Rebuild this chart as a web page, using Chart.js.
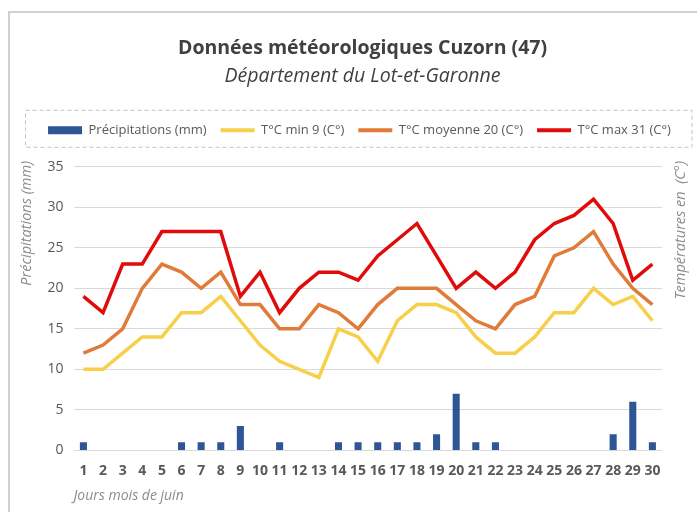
<!DOCTYPE html>
<html>
<head>
<meta charset="utf-8">
<script src="https://cdn.jsdelivr.net/npm/chart.js@4/dist/chart.umd.min.js"></script>
<style>
	body { margin: 0; background: #fff; }
	#wrap { position: relative; width: 697px; height: 512px; }
	#frame { position: absolute; left: 8px; top: 11px; width: 700px; height: 510px; border: 2px solid #d0d0d0; pointer-events: none; }
</style>
</head>
<body>
<div id="wrap">
	<canvas id="meteo-chart"></canvas>
	<div id="frame"></div>
</div>
<script>
// data
let days = [];
for (let i = 1; i <= 30; i++) days.push(String(i));

let precipitations = [1, 0, 0, 0, 0, 1, 1, 1, 3, 0, 1, 0, 0, 1, 1, 1, 1, 1, 2, 7, 1, 1, 0, 0, 0, 0, 0, 2, 6, 1];
let tempMin = [10, 10, 12, 14, 14, 17, 17, 19, 16, 13, 11, 10, 9, 15, 14, 11, 16, 18, 18, 17, 14, 12, 12, 14, 17, 17, 20, 18, 19, 16];
let tempMoyenne = [12, 13, 15, 20, 23, 22, 20, 22, 18, 18, 15, 15, 18, 17, 15, 18, 20, 20, 20, 18, 16, 15, 18, 19, 24, 25, 27, 23, 20, 18];
let tempMax = [19, 17, 23, 23, 27, 27, 27, 27, 19, 22, 17, 20, 22, 22, 21, 24, 26, 28, 24, 20, 22, 20, 22, 26, 28, 29, 31, 28, 21, 23];

let seriesLabels = ["Précipitations (mm)", "T°C min 9 (C°)", "T°C moyenne 20 (C°)", "T°C max 31 (C°)"];
let seriesColors = ["#2f5597", "#f7d04b", "#e07b39", "#e00b0b"];

let fontFamily = "'Open Sans', sans-serif";
let textGrey = "#595959";
let titleGrey = "#8c8c8c";
let leftTitle = "Précipitations (mm)";
let rightTitle = "Températures en  (C°)";
let legendExtra = 20;

// extra space under the legend
const legendMargin = {
	id: "legendMargin",
	beforeInit(chart) {
		const fit = chart.legend.fit;
		chart.legend.fit = function () {
			fit.bind(chart.legend)();
			this.height += legendExtra;
		};
	},
	// title, subtitle and legend sit a bit right of the canvas centre
	afterLayout(chart) {
		chart.boxes.forEach(function (b) {
			if (b.options && typeof b.options.text === "string") {
				b.left += 20;
			}
		});
		chart.legend.left += 7;
		chart.legend.right += 7;
	},
};

// axis titles read bottom to top, top end a little above the plot
function drawAxisTitle(ctx, text, x, y) {
	ctx.save();
	ctx.translate(x, y);
	ctx.rotate(-Math.PI / 2);
	ctx.font = "italic 14.5px " + fontFamily;
	ctx.fillStyle = titleGrey;
	ctx.textAlign = "right";
	ctx.textBaseline = "middle";
	ctx.fillText(text, 0, 0);
	ctx.restore();
}

// dashed box round the legend + axis titles
const legendFrame = {
	id: "legendFrame",
	afterDraw(chart) {
		const lg = chart.legend;
		const ctx = chart.ctx;
		ctx.save();
		ctx.setLineDash([4, 3]);
		ctx.strokeStyle = "#c4c4c4";
		ctx.lineWidth = 1;
		ctx.strokeRect(lg.left + 4.5, lg.top + 0.5, lg.width - 10.5, lg.height - legendExtra);
		ctx.restore();

		drawAxisTitle(ctx, leftTitle, chart.scales.y.left + 13, chart.chartArea.top - 6);
		drawAxisTitle(ctx, rightTitle, chart.scales.y2.right - 10.4, chart.chartArea.top - 6);
	},
};

function lineDataset(label, values, color) {
	return {
		type: "line",
		label: label,
		data: values,
		borderColor: color,
		backgroundColor: color,
		borderWidth: 3.5,
		pointRadius: 0,
		tension: 0,
		yAxisID: "y",
	};
}

const data = {
	labels: days,
	datasets: [
		{
			type: "bar",
			label: seriesLabels[0],
			data: precipitations,
			backgroundColor: seriesColors[0],
			barPercentage: 0.36,
			categoryPercentage: 1,
			yAxisID: "y",
		},
		lineDataset(seriesLabels[1], tempMin, seriesColors[1]),
		lineDataset(seriesLabels[2], tempMoyenne, seriesColors[2]),
		lineDataset(seriesLabels[3], tempMax, seriesColors[3]),
	],
};

const chartConfig = {
	data: data,
	options: {
		responsive: true,
		maintainAspectRatio: false,
		animation: false,
		layout: { padding: { top: 31, left: 14, right: 6, bottom: 4 } },
		plugins: {
			title: {
				display: true,
				text: "Données météorologiques Cuzorn (47)",
				color: "#404040",
				font: { family: fontFamily, size: 19.5, weight: "bold" },
				padding: { top: 6, bottom: 4 },
			},
			subtitle: {
				display: true,
				text: "Département du Lot-et-Garonne",
				color: "#404040",
				font: { family: fontFamily, size: 19.5, style: "italic" },
				padding: { top: 0, bottom: 22 },
			},
			legend: {
				position: "top",
				labels: {
					color: textGrey,
					font: { family: fontFamily, size: 13 },
					usePointStyle: true,
					pointStyleWidth: 34,
					boxHeight: 8,
					padding: 14,
					generateLabels(chart) {
						return chart.data.datasets.map(function (ds, i) {
							let isBar = ds.type === "bar";
							return {
								text: ds.label,
								fillStyle: ds.backgroundColor,
								strokeStyle: ds.borderColor || ds.backgroundColor,
								lineWidth: isBar ? 0 : 4,
								pointStyle: isBar ? "rect" : "line",
								fontColor: textGrey,
								hidden: false,
								datasetIndex: i,
							};
						});
					},
				},
			},
			tooltip: { enabled: false },
		},
		scales: {
			x: {
				grid: { display: false },
				border: { display: false },
				ticks: { color: textGrey, font: { family: fontFamily, size: 14, weight: "bold" }, maxRotation: 0, autoSkip: false, padding: 4 },
				title: {
					display: true,
					text: "Jours mois de juin",
					align: "start",
					color: titleGrey,
					font: { family: fontFamily, size: 14, style: "italic" },
					padding: { top: 4 },
				},
			},
			y: {
				position: "left",
				min: 0,
				max: 35,
				ticks: { stepSize: 5, color: textGrey, font: { family: fontFamily, size: 14 }, padding: 10 },
				grid: { color: "#d9d9d9", lineWidth: 1, drawTicks: false },
				border: { display: false },
				// space only, the text is drawn by legendFrame
				title: {
					display: true,
					text: leftTitle,
					color: "transparent",
					font: { family: fontFamily, size: 13, style: "italic" },
				},
			},
			y2: {
				position: "right",
				min: 0,
				max: 35,
				ticks: { display: false },
				grid: { drawOnChartArea: false, drawTicks: false },
				border: { display: false },
				title: {
					display: true,
					text: rightTitle,
					color: "transparent",
					font: { family: fontFamily, size: 14, style: "italic" },
					padding: { top: 10, bottom: 2 },
				},
			},
		},
	},
	plugins: [legendMargin, legendFrame],
};

let meteoChart = new Chart(document.getElementById("meteo-chart"), chartConfig);
</script>
</body>
</html>
